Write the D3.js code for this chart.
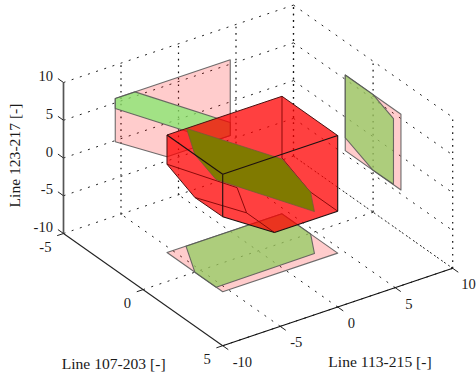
<!DOCTYPE html>
<html><head><meta charset="utf-8">
<script src="https://cdn.jsdelivr.net/npm/d3@7"></script>
<style>html,body{margin:0;padding:0;background:#fff}svg{display:block}text{font-family:"Liberation Serif",serif;font-size:15.6px;fill:#1a1a1a}text.tick{font-size:14.6px}</style>
</head><body><svg id="c" width="476" height="377"></svg>
<script>
// ---- tick values
const xTicks = [-10,-5,0,5,10];
const yTicks = [-5,0,5];
const zTicks = [-10,-5,0,5,10];
const xLabel = "Line 113-215 [-]";
const yLabel = "Line 107-203 [-]";
const zLabel = "Line 123-217 [-]";
// ---- projections on the walls: [a,b]
const wallYPink  = [[-5.5,5.57],[4.5,5.57],[4.5,-4.45],[-1,-4.45],[-5.5,-0.15]];     // [x,z]
const wallYGreen = [[-5.5,5.57],[-3.78,5.57],[4.5,-2.74],[4.5,-4.45],[3.2,-4.45],[-5.5,4.25]]; // [x,z]
const wallXPink  = [[-1.75,5.57],[1.75,5.57],[1.75,-4.45],[-1.75,-4.45]];            // [y,z]
const wallXGreen = [[-1.75,5.57],[0,5.57],[1.28,4.3],[1.28,-4.4],[0,-4.45],[-1.75,-2.74]]; // [y,z]
const floorPink  = [[-5.5,-1.75],[4.5,-1.75],[4.5,1.75],[-5.5,1.75]];                // [x,y]
const floorGreen = [[-3.85,-1.75],[4.5,-1.75],[4.5,0.05],[3.1,1.3],[-5.5,1.34],[-5.5,0]]; // [x,y]
// ---- solid vertices [x,y,z]
const T1=[-5.5,-1.75,5.57],T2=[4.5,-1.75,5.57],T3=[4.5,1.75,5.57],T4=[-5.5,1.75,5.57];
const G=[-5.5,-1.75,1.7],A=[-5.5,0,-0.1],F=[-5.5,1.75,-0.05],C=[-1,1.75,-4.45],D=[4.5,1.75,-4.45];
const B=[-1,0,-4.45],H=[-1,-0.6,-2],E=[4.5,0,-4.45],R=[4.5,-1.75,-2.6];
const solidOutline = [T1,T2,T3,D,C,F,A,G];
const solidStrongEdges = [[T1,T4],[T4,T3],[T4,F],[F,C],[C,D],[D,T3]];
const solidSoftEdges = [[T3,T2],[T2,T1],[T1,G],[G,A],[A,F]];
const solidBackEdges = [[T2,R],[R,E],[E,D],[G,H],[H,B],[A,B],[B,C]];
const plane = [[-3.8,-1.75,5.57],[-5.5,0,5.57],[-5.5,1.34,4.25],[3.1,1.3,-4.45],[4.5,0.05,-4.45],[4.5,-1.75,-2.74]];

// ---- oblique projection built from linear scales
const xU=d3.scaleLinear([-10,10],[0,230]), xV=d3.scaleLinear([-10,10],[0,-77.4]);
const yU=d3.scaleLinear([-5,5],[0,159.2]), yV=d3.scaleLinear([-5,5],[0,112.2]);
const zV=d3.scaleLinear([-10,10],[0,-151]);
const P=([x,y,z])=>[63.5+xU(x)+yU(y),233.5+xV(x)+yV(y)+zV(z)];
const svg=d3.select("#c");
const line=d3.line();
const poly=pts=>line(pts.map(P))+"Z";
const seg=(g,a,b,st)=>{const[p,q]=[P(a),P(b)];g.append("line").attr("x1",p[0]).attr("y1",p[1]).attr("x2",q[0]).attr("y2",q[1]).attr("stroke",st.c).attr("stroke-width",st.w).attr("stroke-dasharray",st.d||null).attr("stroke-opacity",st.o||1);};

// grid
const grid=svg.append("g");
const dot={c:"#222",w:1,d:"2 6.6"}, dotV={c:"#111",w:1.2,d:"1.6 4.8"};
const [x0,x1]=[-10,10],[y0,y1]=[-5,5],[z0,z1]=[-10,10];
xTicks.forEach(x=>{ if(x>x0) seg(grid,[x,y1,z0],[x,y0,z0],dot); if(x>x0) seg(grid,[x,y0,z0],[x,y0,z1],dotV);});
yTicks.forEach(y=>{ if(y>y0) seg(grid,[x0,y,z0],[x1,y,z0],dot); seg(grid,[x1,y,z0],[x1,y,z1],dotV);});
zTicks.forEach(z=>{ seg(grid,[x0,y0,z],[x1,y0,z],dot); seg(grid,[x1,y0,z],[x1,y1,z],dot);});

// wall projections
const edge="rgba(85,85,85,.85)";
const wall=(pts,fill)=>svg.append("path").attr("d",poly(pts)).attr("fill",fill).attr("stroke",edge).attr("stroke-width",1.1).attr("stroke-linejoin","round");
const pink="rgba(255,0,0,.2)", g1="rgba(126,234,105,.72)", g2="rgba(145,205,98,.75)";
wall(floorPink.map(([x,y])=>[x,y,z0]),pink);
wall(floorGreen.map(([x,y])=>[x,y,z0]),g2);
wall(wallYPink.map(([x,z])=>[x,y0,z]),pink);
wall(wallYGreen.map(([x,z])=>[x,y0,z]),g1);
wall(wallXPink.map(([y,z])=>[x1,y,z]),pink);
wall(wallXGreen.map(([y,z])=>[x1,y,z]),g2);

// solid
svg.append("path").attr("d",poly(solidOutline)).attr("fill","rgba(255,0,0,.75)");
const back=svg.append("g");
solidBackEdges.forEach(([a,b])=>seg(back,a,b,{c:"#8c0a0a",w:1}));
svg.append("path").attr("d",poly(plane)).attr("fill","#807a00").attr("stroke","rgba(110,90,60,.7)").attr("stroke-width",1);
const front=svg.append("g");
solidSoftEdges.forEach(([a,b])=>seg(front,a,b,{c:"#4a1212",w:1}));
solidStrongEdges.forEach(([a,b])=>seg(front,a,b,{c:"#1c1010",w:1.1}));

// axes
const ax=svg.append("g");
seg(ax,[x0,y0,z0],[x0,y0,z1],{c:"#555",w:1.7});
seg(ax,[x0,y0,z0],[x0,y1,z0],{c:"#222",w:1.1});
seg(ax,[x0,y1,z0],[x1,y1,z0],{c:"#111",w:1.2});
const tk={c:"#222",w:1};
const t=(p,dx,dy,s,anchor)=>svg.append("text").attr("class","tick").attr("x",p[0]+dx).attr("y",p[1]+dy).attr("dy",".35em").attr("text-anchor",anchor).text(s);
xTicks.forEach(x=>{seg(ax,[x,y1,z0],[x,y1+.35,z0],tk);t(P([x,y1,z0]),x===10?8.6:10,16,x,"start");});
yTicks.forEach(y=>{seg(ax,[x0,y,z0],[x0-.55,y,z0],tk);t(P([x0,y,z0]),-12,13,y,"end");});
zTicks.forEach(z=>{seg(ax,[x0,y0,z],[x0,y0-.35,z],tk);t(P([x0,y0,z]),-10.5,-6.5,z,"end");});
svg.append("text").attr("x",380).attr("y",361.7).attr("dy",".35em").attr("text-anchor","middle").text(xLabel);
svg.append("text").attr("x",113.7).attr("y",364).attr("dy",".35em").attr("text-anchor","middle").text(yLabel);
svg.append("text").attr("transform","translate(15,155.5) rotate(-90)").attr("dy",".35em").attr("text-anchor","middle").text(zLabel);
</script></body></html>
